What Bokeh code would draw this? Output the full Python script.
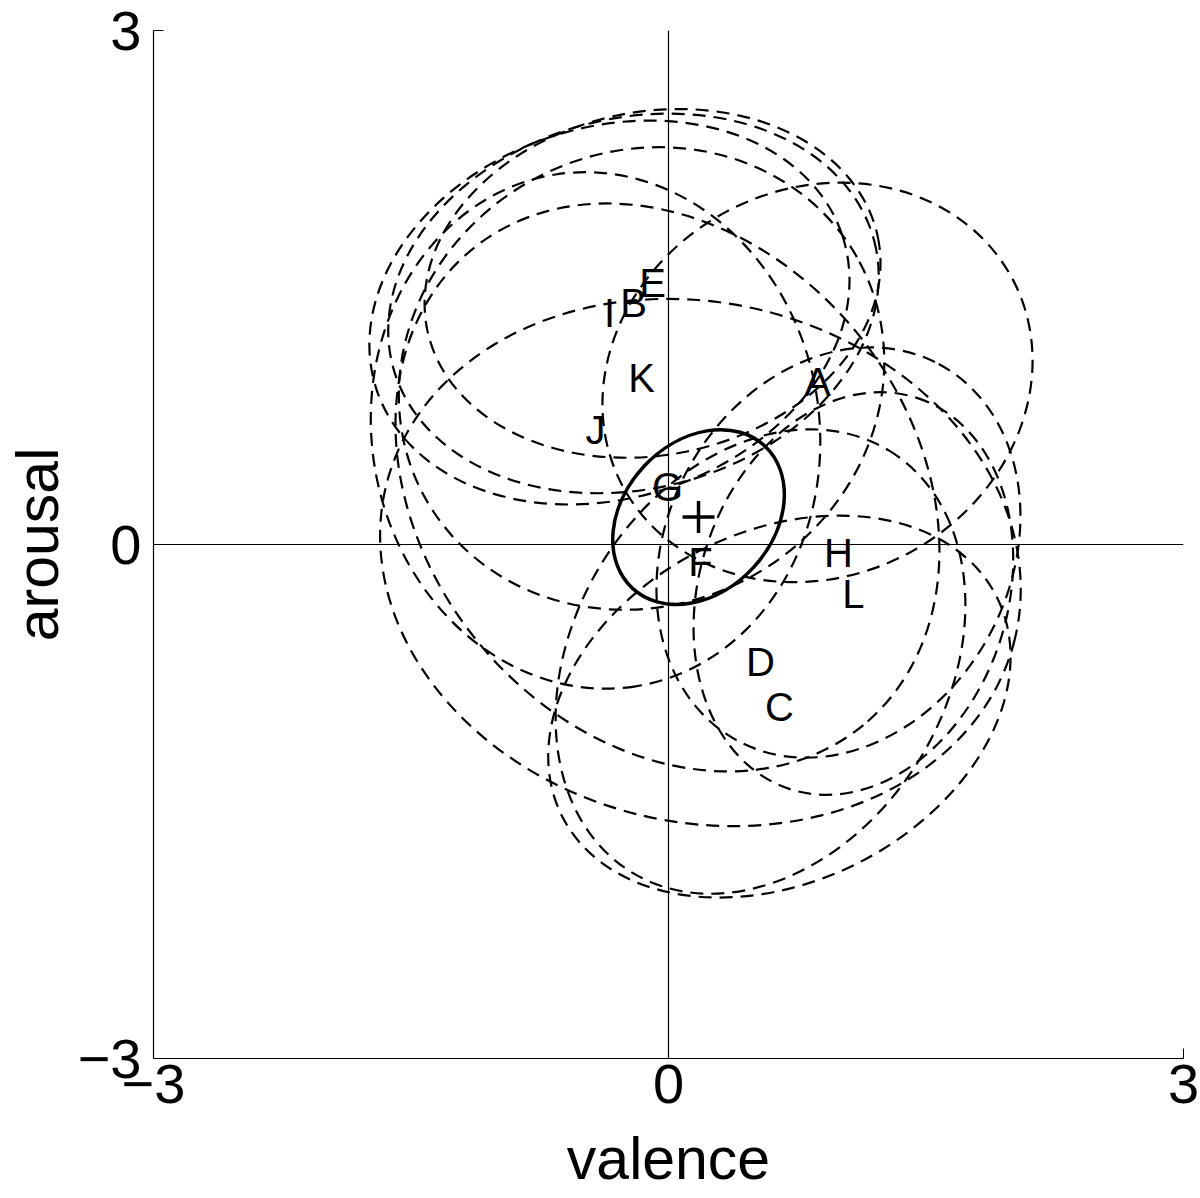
from bokeh.plotting import figure
from bokeh.models import Range1d, FixedTicker, Span, ColumnDataSource
from bokeh.core.properties import value
from bokeh.embed import file_html
from bokeh.resources import INLINE

# ---- data (valence, arousal) ----
labels = ["A", "B", "C", "D", "E", "F", "G", "H", "I", "J", "K", "L"]
label_x = [0.868, -0.204, 0.646, 0.536, -0.093, 0.186, -0.006, 0.990, -0.344, -0.425, -0.157, 1.077]
label_y = [0.946, 1.407, -0.946, -0.683, 1.524, -0.105, 0.333, -0.047, 1.354, 0.666, 0.969, -0.286]

# confidence ellipses of each subject (semi-axes and orientation)
ell_a = [1.286, 1.449, 1.418, 1.439, 1.340, 1.885, 1.794, 1.244, 1.429, 1.509, 1.440, 1.198]
ell_b = [1.130, 1.081, 1.022, 1.090, 1.002, 1.516, 1.428, 1.004, 1.081, 1.307, 1.322, 0.900]
ell_angle = [27.9, 14.5, 26.8, 58.6, 11.6, -13.7, -50.5, 62.0, 18.3, -81.1, 28.2, 72.0]

# group mean and its ellipse
mean_x = [0.175]
mean_y = [0.16]
mean_a = [0.566]
mean_b = [0.435]
mean_angle = [47.0]

ticks = [-3, 0, 3]
tick_labels = {-3: "\u22123", 0: "0", 3: "3"}

FONT = "Liberation Sans"

p = figure(frame_width=1030, frame_height=1028, x_range=Range1d(-3, 3), y_range=Range1d(-3, 3),
           output_backend="svg", toolbar_location=None,
           min_border_left=153, min_border_top=30, min_border_right=17, min_border_bottom=140)
p.outline_line_color = None
p.grid.visible = False
p.background_fill_color = "white"

for ax in (p.xaxis[0], p.yaxis[0]):
    ax.ticker = FixedTicker(ticks=ticks)
    ax.major_label_overrides = tick_labels
    ax.major_label_text_font = FONT
    ax.major_label_text_font_size = "56px"
    ax.major_label_text_color = "black"
    ax.axis_label_text_font = FONT
    ax.axis_label_text_font_size = "59px"
    ax.axis_label_text_font_style = "normal"
    ax.axis_label_text_color = "black"
    ax.axis_line_color = "black"
    ax.axis_line_width = 1.2
    ax.major_tick_in = 10
    ax.major_tick_out = 0
    ax.major_tick_line_color = "black"
    ax.minor_tick_line_color = None

p.xaxis.axis_label = "valence"
p.yaxis.axis_label = "arousal"
p.xaxis.major_label_standoff = 6
p.yaxis.major_label_standoff = 12
p.xaxis.axis_label_standoff = 20
p.yaxis.axis_label_standoff = 4

p.add_layout(Span(location=0, dimension="width", line_color="black", line_width=1.2))
p.add_layout(Span(location=0, dimension="height", line_color="black", line_width=1.2))

src = ColumnDataSource(dict(
    x=label_x, y=label_y,
    w=[2 * a for a in ell_a], h=[2 * b for b in ell_b],
    ang=ell_angle, lab=labels,
))
p.ellipse(x="x", y="y", width="w", height="h", angle="ang", angle_units="deg",
          source=src, fill_color=None, line_color="black", line_width=2.2,
          line_dash="13 8")

msrc = ColumnDataSource(dict(
    x=mean_x, y=mean_y,
    w=[2 * a for a in mean_a], h=[2 * b for b in mean_b], ang=mean_angle,
))
p.ellipse(x="x", y="y", width="w", height="h", angle="ang", angle_units="deg",
          source=msrc, fill_color=None, line_color="black", line_width=3.5)
p.scatter(x="x", y="y", source=msrc, marker="cross", size=32,
          line_color="black", line_width=3.5)

p.text(x="x", y="y", text="lab", source=src, text_font=value(FONT),
       text_font_size="40px", text_align="center", text_baseline="middle",
       text_color="black")

open("out.html", "w").write(file_html(p, INLINE))
